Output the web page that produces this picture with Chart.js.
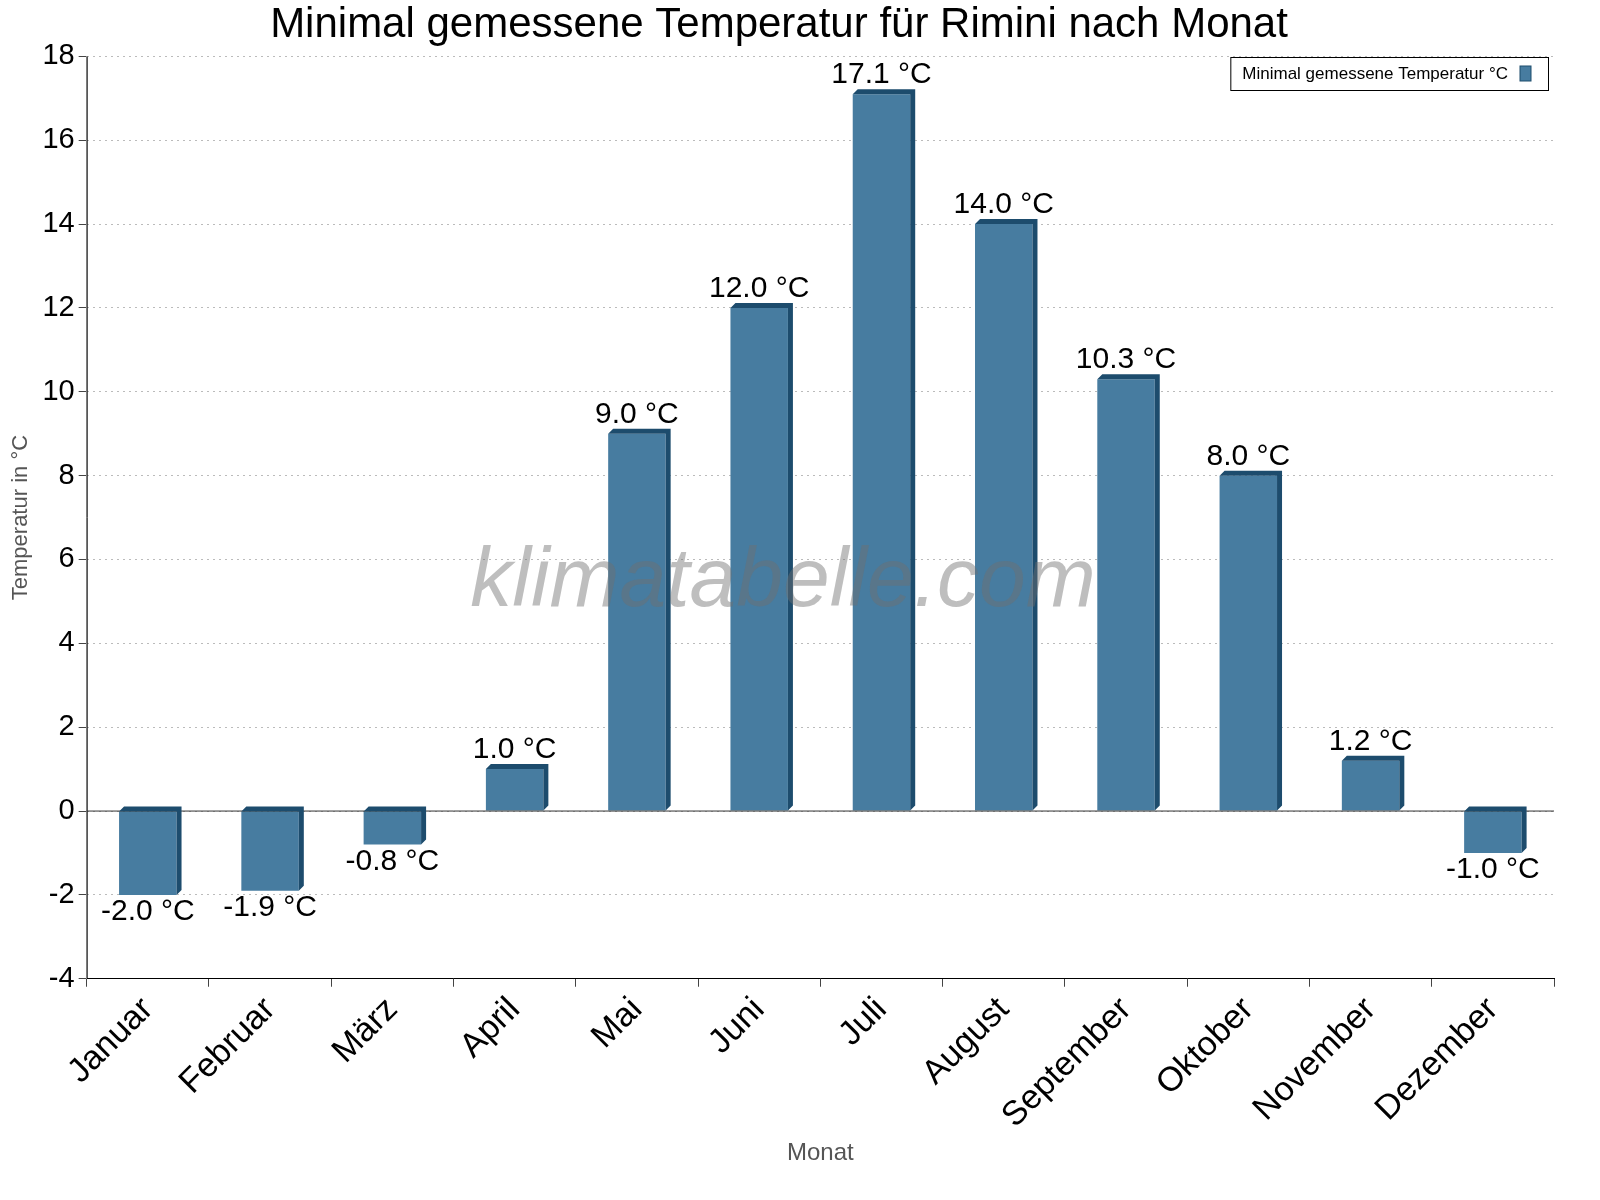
<!DOCTYPE html>
<html><head><meta charset="utf-8">
<script src="https://cdn.jsdelivr.net/npm/chart.js@4.4.0/dist/chart.umd.min.js"></script>
<style>html,body{margin:0;background:#fff}#wrap{width:1600px;height:1200px}</style>
</head><body><div id="wrap"><canvas id="c"></canvas></div>
<script>
const monate = ["Januar","Februar","März","April","Mai","Juni","Juli","August","September","Oktober","November","Dezember"];
const minTemp = [-2.0,-1.9,-0.8,1.0,9.0,12.0,17.1,14.0,10.3,8.0,1.2,-1.0];
const serienName = "Minimal gemessene Temperatur °C";
const FONT = "'Liberation Sans', Arial, sans-serif";

// 3D-Kante, Werte-Labels, Wasserzeichen, Legende
const extras = {
  id: "extras",
  afterDatasetsDraw(chart) {
    const ctx = chart.ctx, a = chart.chartArea;
    const y0 = chart.scales.y.getPixelForValue(0);
    ctx.save();
    // Achse links + Nulllinie
    ctx.strokeStyle = "#000"; ctx.lineWidth = 1;
    ctx.beginPath(); ctx.moveTo(a.left + 0.5, a.top); ctx.lineTo(a.left + 0.5, a.bottom); ctx.stroke();
    ctx.strokeStyle = "#333";
    ctx.beginPath(); ctx.moveTo(a.left, y0); ctx.lineTo(a.right, y0); ctx.stroke();
    const d = 5;
    chart.getDatasetMeta(0).data.forEach((bar, i) => {
      const l = bar.x - bar.width / 2, r = bar.x + bar.width / 2;
      const top = Math.min(bar.y, bar.base), bot = Math.max(bar.y, bar.base);
      ctx.fillStyle = "#1d4c6d";
      ctx.beginPath();
      ctx.moveTo(l, top); ctx.lineTo(l + d, top - d); ctx.lineTo(r + d, top - d);
      ctx.lineTo(r + d, bot - d); ctx.lineTo(r, bot); ctx.lineTo(r, top); ctx.closePath();
      ctx.fill();
      const v = minTemp[i];
      ctx.fillStyle = "#000"; ctx.font = "30px " + FONT; ctx.textAlign = "center";
      if (v >= 0) { ctx.textBaseline = "bottom"; ctx.fillText(v.toFixed(1) + " °C", bar.x, bar.y - 4); }
      else { ctx.textBaseline = "top"; ctx.fillText(v.toFixed(1) + " °C", bar.x, bar.y + 2); }
    });
    // Wasserzeichen
    ctx.font = "italic 84px " + FONT;
    ctx.fillStyle = "rgba(110,110,110,0.45)";
    ctx.textAlign = "center"; ctx.textBaseline = "middle";
    ctx.fillText("klimatabelle.com", 783, 583);
    // Legende
    ctx.font = "17px " + FONT; ctx.textAlign = "left"; ctx.textBaseline = "middle";
    const tw = ctx.measureText(serienName).width;
    const bw = tw + 52, bx = 1548 - bw, by = 57, bh = 33;
    ctx.fillStyle = "#fff"; ctx.fillRect(bx, by, bw, bh);
    ctx.strokeStyle = "#000"; ctx.strokeRect(bx + 0.5, by + 0.5, bw, bh);
    ctx.fillStyle = "#000"; ctx.fillText(serienName, bx + 12, by + bh / 2 + 1);
    ctx.fillStyle = "#477ca0"; ctx.fillRect(bx + tw + 24, by + 9, 11, 15);
    ctx.strokeStyle = "#1d4c6d"; ctx.strokeRect(bx + tw + 24, by + 9, 11, 15);
    ctx.restore();
  }
};

new Chart(document.getElementById("c"), {
  type: "bar",
  data: { labels: monate, datasets: [{ label: serienName, data: minTemp,
    backgroundColor: "#477ca0", borderWidth: 0, barPercentage: 0.47, categoryPercentage: 1 }] },
  options: {
    responsive: true, maintainAspectRatio: false, animation: false,
    layout: { padding: { left: 4, right: 46, top: 0, bottom: 28 } },
    plugins: {
      legend: { display: false }, tooltip: { enabled: false },
      title: { display: true, text: "Minimal gemessene Temperatur für Rimini nach Monat",
        font: { family: FONT, size: 42, weight: "normal" }, color: "#000", padding: { top: 0, bottom: 6 } }
    },
    scales: {
      x: {
        grid: { offset: true, drawOnChartArea: false, drawTicks: true, tickLength: 8, color: "#444" },
        border: { color: "#000" },
        ticks: { font: { family: FONT, size: 34 }, color: "#000", maxRotation: 45, minRotation: 45 },
        title: { display: true, text: "Monat", font: { family: FONT, size: 24 }, color: "#555", padding: { top: 0 } }
      },
      y: {
        min: -4, max: 18,
        ticks: { stepSize: 2, font: { family: FONT, size: 29 }, color: "#000", padding: 4 },
        grid: { color: "#bbb", tickColor: "#444", tickLength: 8 },
        border: { color: "#bbb", dash: [2, 4] },
        title: { display: true, text: "Temperatur in °C", font: { family: FONT, size: 22 }, color: "#555" }
      }
    }
  },
  plugins: [extras]
});
</script></body></html>
